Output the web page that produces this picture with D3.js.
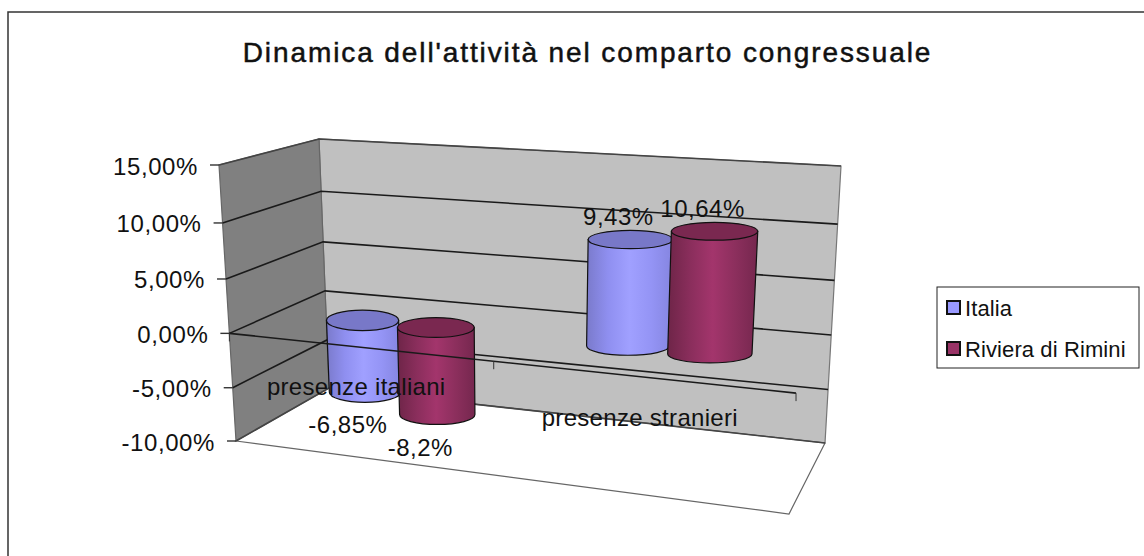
<!DOCTYPE html>
<html>
<head>
<meta charset="utf-8">
<script src="https://cdn.jsdelivr.net/npm/d3@7"></script>
<style>
  html, body { margin: 0; padding: 0; background: #fff; }
  svg { display: block; }
  text { font-family: "Liberation Sans", Arial, sans-serif; fill: #111; }
</style>
</head>
<body>
<div id="main"></div>
<script>
// data
const chartTitle = "Dinamica dell'attività nel comparto congressuale";
const categories = ['presenze italiani', 'presenze stranieri'];
const seriesNames = ['Italia', 'Riviera di Rimini'];
const italia = [-6.85, 9.43];
const rimini = [-8.2, 10.64];
const italiaLabels = ['-6,85%', '9,43%'];
const riminiLabels = ['-8,2%', '10,64%'];
const tickValues = [-10, -5, 0, 5, 10, 15];
const tickLabels = ['-10,00%', '-5,00%', '0,00%', '5,00%', '10,00%', '15,00%'];

!(function () {
  'use strict';

  const width = 1144, height = 556;

  const svg = d3.select('#main').append('svg')
    .attr('width', width)
    .attr('height', height);

  const defs = svg.append('defs');

  // colours per series: side gradient stops + top ellipse
  const look = [
    { base: '#9999ff', top: '#7878c8', edge: ['#7a7acb', '#8f8ff0', '#a0a0ff', '#9494f5', '#8585e0'] },
    { base: '#993366', top: '#7a2850', edge: ['#6e2548', '#8a2e5c', '#a3356c', '#8c2f5d', '#75274e'] }
  ];
  look.forEach(function (l, i) {
    const g = defs.append('linearGradient').attr('id', 'cyl' + i);
    l.edge.forEach(function (c, k) {
      g.append('stop').attr('offset', (k / (l.edge.length - 1) * 100) + '%').attr('stop-color', c);
    });
  });

  // the box of the 3d plot, as seen on screen
  const box = {
    frontLeft: { low: [236, 441], high: [219, 165] },
    backLeft: { low: [329, 388], high: [319, 139] },
    backRight: { low: [825, 443], high: [841, 166] },
    frontRight: { low: [789, 514], high: [807, 204] }
  };

  // value -> height in the box (steps get a bit wider towards the top)
  const vScale = d3.scaleLinear()
    .domain(tickValues)
    .range([0, 0.193, 0.39, 0.587, 0.79, 1]);

  // category position along the floor, compressed to the left by the perspective
  const uWarp = d3.scalePow().exponent(1.1).domain([0, 1]).range([0, 1]);
  const uCyl = d3.scaleLinear().domain([0, 1]).range([0.012, 0.997]);

  const catScale = d3.scaleBand().domain(categories).range([0, 1]);
  const serScale = d3.scaleBand().domain(seriesNames)
    .range([0, 0.29]);

  function corner(c, t) {
    return [c.low[0] + (c.high[0] - c.low[0]) * t, c.low[1] + (c.high[1] - c.low[1]) * t];
  }

  // u along the category axis, d front to back, v the value
  function project(u, d, v) {
    const t = vScale(v);
    const fl = corner(box.frontLeft, t), bl = corner(box.backLeft, t);
    const br = corner(box.backRight, t), fr = corner(box.frontRight, t);
    const lx = fl[0] + (bl[0] - fl[0]) * d, ly = fl[1] + (bl[1] - fl[1]) * d;
    const rx = fr[0] + (br[0] - fr[0]) * d, ry = fr[1] + (br[1] - fr[1]) * d;
    return [lx + (rx - lx) * u, ly + (ry - ly) * u];
  }

  function poly(pts) {
    return pts.map(function (p) { return p.join(','); }).join(' ');
  }

  const vMin = tickValues[0], vMax = tickValues[tickValues.length - 1];

  // frame, open to the right and the bottom like the cropped original
  svg.append('path')
    .attr('d', d3.line()([[8, height], [8, 12], [width, 12]]))
    .attr('fill', 'none')
    .attr('stroke', '#333')
    .attr('stroke-width', 1.5);

  // walls and floor
  svg.append('polygon')
    .attr('points', poly([project(0, 1, vMin), project(1, 1, vMin), project(1, 1, vMax), project(0, 1, vMax)]))
    .attr('fill', '#c0c0c0').attr('stroke', '#777').attr('stroke-width', 1.2);
  svg.append('polygon')
    .attr('points', poly([project(0, 0, vMin), project(0, 1, vMin), project(0, 1, vMax), project(0, 0, vMax)]))
    .attr('fill', '#808080').attr('stroke', '#666').attr('stroke-width', 1.2);
  svg.append('polygon')
    .attr('points', poly([project(0, 0, vMin), project(1, 0, vMin), project(1, 1, vMin), project(0, 1, vMin)]))
    .attr('fill', '#fff').attr('stroke', '#666').attr('stroke-width', 1.2);

  // gridlines
  svg.append('g').selectAll('path')
    .data(tickValues)
    .join('path')
    .attr('d', function (v) { return d3.line()([project(0, 0, v), project(0, 1, v), project(1, 1, v)]); })
    .attr('fill', 'none')
    .attr('stroke', function (v) { return v === vMin || v === vMax ? '#444' : '#1a1a1a'; })
    .attr('stroke-width', 1.6);

  // value axis
  const yAxis = svg.append('g').selectAll('g')
    .data(tickValues)
    .join('g');
  yAxis.append('line')
    .attr('x1', function (v) { return project(0, 0, v)[0] - 9; })
    .attr('x2', function (v) { return project(0, 0, v)[0]; })
    .attr('y1', function (v) { return project(0, 0, v)[1]; })
    .attr('y2', function (v) { return project(0, 0, v)[1]; })
    .attr('stroke', '#333')
    .attr('stroke-width', 1.4);
  yAxis.append('text')
    .attr('x', function (v) { return project(0, 0, v)[0] - 21; })
    .attr('y', function (v) { return project(0, 0, v)[1] + 9.5; })
    .attr('text-anchor', 'end')
    .attr('font-size', 24)
    .attr('letter-spacing', 0.6)
    .text(function (v, i) { return tickLabels[i]; });

  // cylinders
  const cylRy = d3.scaleLinear().domain([0, 1]).range([10.5, 8.5]);
  const halfWidth = 0.074;

  function cylinder(sel, value, cat, s) {
    const u0 = catScale(cat) + catScale.bandwidth() / 2 - serScale.range()[1] / 2 + serScale(seriesNames[s]);
    const um = u0 + serScale.bandwidth() / 2;
    const uC = uCyl(uWarp(um));
    const uL = uCyl(uWarp(um - halfWidth)), uR = uCyl(uWarp(um + halfWidth));
    const top = Math.max(value, 0), bot = Math.min(value, 0);
    const tl = project(uL, 0.5, top), tr = project(uR, 0.5, top), tc = project(uC, 0.5, top);
    const bl = project(uL, 0.5, bot), br = project(uR, 0.5, bot), bc = project(uC, 0.5, bot);
    const rxT = (tr[0] - tl[0]) / 2, rxB = (br[0] - bl[0]) / 2;
    const ry = cylRy(uC);

    sel.append('path')
      .attr('d', 'M' + (tc[0] - rxT) + ',' + tc[1] +
        'L' + (bc[0] - rxB) + ',' + bc[1] +
        'A' + rxB + ',' + ry + ' 0 0 0 ' + (bc[0] + rxB) + ',' + bc[1] +
        'L' + (tc[0] + rxT) + ',' + tc[1] + 'Z')
      .attr('fill', 'url(#cyl' + s + ')')
      .attr('stroke', '#111')
      .attr('stroke-width', 1.2);
    sel.append('ellipse')
      .attr('cx', tc[0]).attr('cy', tc[1])
      .attr('rx', rxT).attr('ry', ry)
      .attr('fill', look[s].top)
      .attr('stroke', '#111')
      .attr('stroke-width', 1.2);

    return { top: tc, bottom: bc };
  }

  const plotted = [];
  [italia, rimini].forEach(function (values, s) {
    categories.forEach(function (cat, i) {
      const r = cylinder(svg.append('g'), values[i], cat, s);
      plotted.push({ value: values[i], label: (s === 0 ? italiaLabels : riminiLabels)[i], pos: r });
    });
  });

  // category axis sits on top of the cylinders
  svg.append('path')
    .attr('d', d3.line()([project(0, 0, 0), project(1, 0, 0)]))
    .attr('fill', 'none')
    .attr('stroke', '#1a1a1a')
    .attr('stroke-width', 1.6);
  svg.append('g').selectAll('line')
    .data([0, 0.5, 1])
    .join('line')
    .attr('x1', function (u) { return project(uWarp(u), 0, 0)[0]; })
    .attr('x2', function (u) { return project(uWarp(u), 0, 0)[0]; })
    .attr('y1', function (u) { return project(uWarp(u), 0, 0)[1]; })
    .attr('y2', function (u) { return project(uWarp(u), 0, 0)[1] + 8; })
    .attr('stroke', '#333');

  const catShift = d3.scaleOrdinal().domain(categories).range([3.5, -2.5]);
  svg.append('g').selectAll('text')
    .data(categories)
    .join('text')
    .attr('x', function (c) { return project(uWarp(catScale(c) + catScale.bandwidth() / 2), 0, 0)[0] + catShift(c); })
    .attr('y', function (c) { return project(uWarp(catScale(c) + catScale.bandwidth() / 2), 0, 0)[1] + 49; })
    .attr('text-anchor', 'middle')
    .attr('font-size', 24)
    .attr('letter-spacing', 0.3)
    .text(function (c) { return c; });

  // data labels
  svg.append('g').selectAll('text')
    .data(plotted)
    .join('text')
    .attr('x', function (d) { return d.value < 0 ? d.pos.bottom[0] - 17 : d.pos.top[0] - 12; })
    .attr('y', function (d) { return d.value < 0 ? d.pos.bottom[1] + 41 : d.pos.top[1] - 14.5; })
    .attr('text-anchor', 'middle')
    .attr('font-size', 24)
    .attr('letter-spacing', 0.5)
    .text(function (d) { return d.label; });

  // title
  svg.append('text')
    .attr('x', 587.5)
    .attr('y', 62)
    .attr('text-anchor', 'middle')
    .attr('font-size', 28)
    .attr('letter-spacing', 1.9)
    .attr('stroke', '#111')
    .attr('stroke-width', 0.5)
    .text(chartTitle);

  // legend
  const legend = svg.append('g');
  legend.append('rect')
    .attr('x', 937).attr('y', 287)
    .attr('width', 202).attr('height', 81)
    .attr('fill', '#fff').attr('stroke', '#222').attr('stroke-width', 1);
  const legendRow = d3.scalePoint().domain(seriesNames).range([307.5, 348.5]);
  seriesNames.forEach(function (name, s) {
    legend.append('rect')
      .attr('x', 947).attr('y', legendRow(name) - 6.5)
      .attr('width', 13).attr('height', 13)
      .attr('fill', look[s].base)
      .attr('stroke', '#111').attr('stroke-width', 2);
    legend.append('text')
      .attr('x', 965).attr('y', legendRow(name) + 8)
      .attr('font-size', 22)
      .attr('letter-spacing', 0.1)
      .text(name);
  });
}());
</script>
</body>
</html>
